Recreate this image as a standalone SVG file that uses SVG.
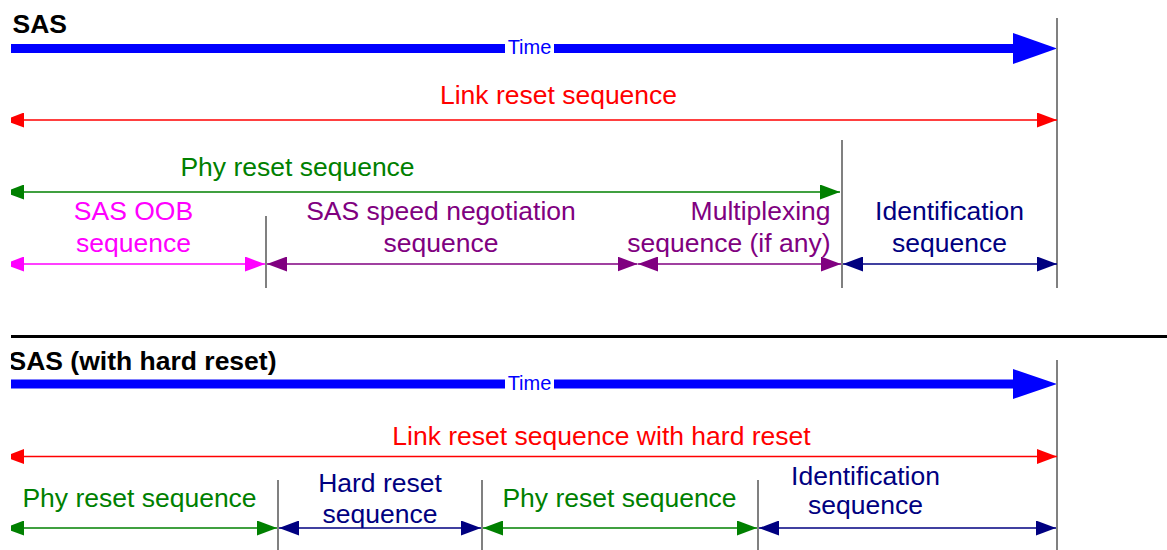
<svg xmlns="http://www.w3.org/2000/svg" width="1167" height="550" viewBox="0 0 1167 550">
  <style>
    text { font-family: "Liberation Sans", Arial, sans-serif; font-size: 26.5px; }
    .title { font-weight: bold; fill: #000; }
    .time { font-size: 20px; fill: #0000ff; text-anchor: middle; }
    .mid { text-anchor: middle; }
    .end { text-anchor: end; }
    .tick { stroke: #808080; stroke-width: 2; fill: none; }
    .span { stroke-width: 1.6; fill: none; }
    .red { stroke: #ff0000; } .tred { fill: #ff0000; }
    .green { stroke: #008000; } .tgreen { fill: #008000; }
    .mag { stroke: #ff00ff; } .tmag { fill: #ff00ff; }
    .pur { stroke: #800080; } .tpur { fill: #800080; }
    .navy { stroke: #000080; } .tnavy { fill: #000080; }
  </style>
  <defs>
    <clipPath id="page"><rect x="11" y="0" width="1156" height="550"/></clipPath>
    <marker id="ahRed" markerUnits="userSpaceOnUse" markerWidth="20" markerHeight="15" refX="20" refY="7.5" orient="auto-start-reverse"><path d="M0,0 L20,7.5 L0,15 z" fill="#ff0000"/></marker>
    <marker id="ahGreen" markerUnits="userSpaceOnUse" markerWidth="20" markerHeight="15" refX="20" refY="7.5" orient="auto-start-reverse"><path d="M0,0 L20,7.5 L0,15 z" fill="#008000"/></marker>
    <marker id="ahMag" markerUnits="userSpaceOnUse" markerWidth="20" markerHeight="15" refX="20" refY="7.5" orient="auto-start-reverse"><path d="M0,0 L20,7.5 L0,15 z" fill="#ff00ff"/></marker>
    <marker id="ahPur" markerUnits="userSpaceOnUse" markerWidth="20" markerHeight="15" refX="20" refY="7.5" orient="auto-start-reverse"><path d="M0,0 L20,7.5 L0,15 z" fill="#800080"/></marker>
    <marker id="ahNavy" markerUnits="userSpaceOnUse" markerWidth="20" markerHeight="15" refX="20" refY="7.5" orient="auto-start-reverse"><path d="M0,0 L20,7.5 L0,15 z" fill="#000080"/></marker>
  </defs>
  <rect width="1167" height="550" fill="#fff"/>
  <g clip-path="url(#page)">
    <!-- SAS (normal link reset) -->
    <g id="sas">
      <text class="title" x="12.5" y="33">SAS</text>
      <g id="sas-time">
        <line x1="11" y1="48.5" x2="1015" y2="48.5" stroke="#0000ff" stroke-width="9"/>
        <polygon points="1013,33 1057,48.5 1013,64" fill="#0000ff"/>
        <rect x="505" y="38" width="49" height="20" fill="#fff"/>
        <text class="time" x="529.5" y="53.5">Time</text>
      </g>
      <g id="sas-ticks">
        <line class="tick" x1="1057" y1="18" x2="1057" y2="288"/>
        <line class="tick" x1="842" y1="140" x2="842" y2="288"/>
        <line class="tick" x1="266" y1="216" x2="266" y2="288"/>
      </g>
      <g id="sas-link-reset">
        <text class="mid tred" x="558.5" y="104">Link reset sequence</text>
      </g>
      <g id="sas-phy-reset">
        <text class="mid tgreen" x="297.5" y="176">Phy reset sequence</text>
      </g>
      <g id="sas-oob">
        <text class="mid tmag" x="133.5" y="219.5">SAS OOB</text>
        <text class="mid tmag" x="133.5" y="251.5">sequence</text>
      </g>
      <g id="sas-speed">
        <text class="mid tpur" x="441" y="219.5">SAS speed negotiation</text>
        <text class="mid tpur" x="441" y="251.5">sequence</text>
      </g>
      <g id="sas-mux">
        <text class="end tpur" x="830.5" y="219.5">Multiplexing</text>
        <text class="end tpur" x="830.5" y="251.5">sequence (if any)</text>
      </g>
      <g id="sas-ident">
        <text class="mid tnavy" x="949.5" y="219.5">Identification</text>
        <text class="mid tnavy" x="949.5" y="251.5">sequence</text>
      </g>
    </g>

    <!-- separator -->
    <line x1="11" y1="336.5" x2="1167" y2="336.5" stroke="#000" stroke-width="3"/>

    <!-- SAS with hard reset -->
    <g id="sas-hard">
      <text class="title" x="8.5" y="370">SAS (with hard reset)</text>
      <g id="hard-time">
        <line x1="11" y1="384" x2="1015" y2="384" stroke="#0000ff" stroke-width="9"/>
        <polygon points="1013,369 1057,384 1013,399" fill="#0000ff"/>
        <rect x="505" y="374" width="49" height="20" fill="#fff"/>
        <text class="time" x="529.5" y="389.5">Time</text>
      </g>
      <g id="hard-ticks">
        <line class="tick" x1="1057" y1="360" x2="1057" y2="550"/>
        <line class="tick" x1="278" y1="480" x2="278" y2="550"/>
        <line class="tick" x1="482" y1="480" x2="482" y2="550"/>
        <line class="tick" x1="758" y1="480" x2="758" y2="550"/>
      </g>
      <g id="hard-link-reset">
        <text class="mid tred" x="601.5" y="445">Link reset sequence with hard reset</text>
      </g>
      <g id="hard-phy1">
        <text class="mid tgreen" x="139.5" y="507">Phy reset sequence</text>
      </g>
      <g id="hard-reset">
        <text class="mid tnavy" x="380" y="491.5">Hard reset</text>
        <text class="mid tnavy" x="380" y="523">sequence</text>
      </g>
      <g id="hard-phy2">
        <text class="mid tgreen" x="619.5" y="507">Phy reset sequence</text>
      </g>
      <g id="hard-ident">
        <text class="mid tnavy" x="865.5" y="485">Identification</text>
        <text class="mid tnavy" x="865.5" y="514">sequence</text>
      </g>
    </g>

    <!-- connectors: double-headed span arrows -->
    <g id="connectors">
      <line class="span red" x1="4" y1="120" x2="1057" y2="120" marker-start="url(#ahRed)" marker-end="url(#ahRed)"/>
      <line class="span green" x1="4" y1="192" x2="840" y2="192" marker-start="url(#ahGreen)" marker-end="url(#ahGreen)"/>
      <line class="span mag" x1="4" y1="264" x2="265" y2="264" marker-start="url(#ahMag)" marker-end="url(#ahMag)"/>
      <line class="span pur" x1="267" y1="264" x2="637.5" y2="264" marker-start="url(#ahPur)" marker-end="url(#ahPur)"/>
      <line class="span pur" x1="638" y1="264" x2="841" y2="264" marker-start="url(#ahPur)" marker-end="url(#ahPur)"/>
      <line class="span navy" x1="843" y1="264" x2="1057" y2="264" marker-start="url(#ahNavy)" marker-end="url(#ahNavy)"/>

      <line class="span red" x1="4" y1="456.5" x2="1057" y2="456.5" marker-start="url(#ahRed)" marker-end="url(#ahRed)"/>
      <line class="span green" x1="4" y1="528" x2="277" y2="528" marker-start="url(#ahGreen)" marker-end="url(#ahGreen)"/>
      <line class="span navy" x1="279" y1="528" x2="481" y2="528" marker-start="url(#ahNavy)" marker-end="url(#ahNavy)"/>
      <line class="span green" x1="483" y1="528" x2="757" y2="528" marker-start="url(#ahGreen)" marker-end="url(#ahGreen)"/>
      <line class="span navy" x1="759" y1="528" x2="1056" y2="528" marker-start="url(#ahNavy)" marker-end="url(#ahNavy)"/>
    </g>
  </g>
</svg>
